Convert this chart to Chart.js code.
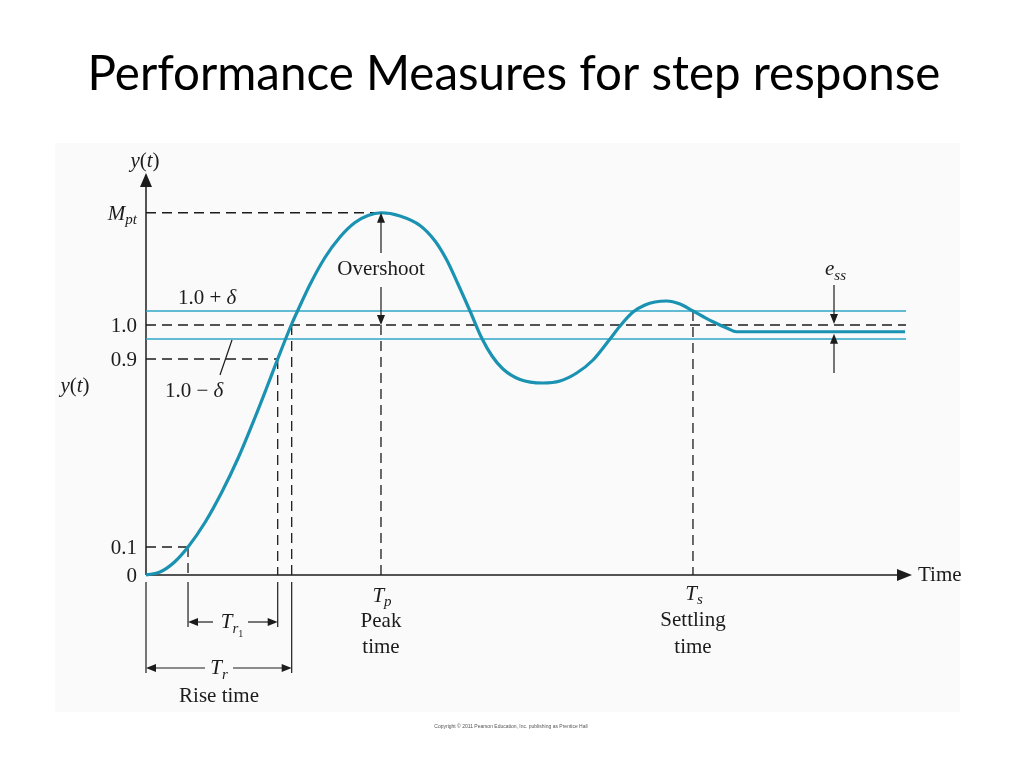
<!DOCTYPE html>
<html>
<head>
<meta charset="utf-8">
<title>Performance Measures for step response</title>
<script src="https://cdn.jsdelivr.net/npm/chart.js@4.4.1/dist/chart.umd.min.js"></script>
<style>
  html, body { margin: 0; padding: 0; background: #fff; }
  canvas { display: block; }
</style>
</head>
<body>
<canvas id="stepChart" width="1024" height="768"></canvas>
<script>
// Step response y(t) (time in arbitrary units, 1.0 = final reference)
const curveT = [0, 0.184, 0.368, 0.553, 0.776, 1.0, 1.211, 1.434, 1.579, 1.733, 1.917, 2.0,
                2.158, 2.355, 2.553, 2.75, 2.921, 3.092, 3.342, 3.605, 3.803, 3.957, 4.105,
                4.263, 4.417, 4.553, 4.697, 4.921, 5.224, 5.447, 5.667, 5.882, 6.105, 6.237,
                6.408, 6.566, 6.697, 6.851, 7.026, 7.197, 7.329, 7.46, 7.64, 7.772, 7.947, 9.987];
const curveY = [0, 0.012, 0.050, 0.112, 0.210, 0.333, 0.467, 0.630, 0.742, 0.864, 1.004, 1.06,
                1.162, 1.27, 1.352, 1.41, 1.438, 1.449, 1.436, 1.398, 1.336, 1.26, 1.164,
                1.056, 0.948, 0.876, 0.824, 0.782, 0.768, 0.776, 0.808, 0.86, 0.944, 0.996,
                1.052, 1.08, 1.092, 1.096, 1.084, 1.056, 1.034, 1.013, 0.988, 0.973, 0.973, 0.973];

// y-axis marks (positions as drawn in the figure) and their labels
const yTickValues = [0, 0.112, 0.864, 1.0, 1.449];
const yTickLabels = ['0', '0.1', '0.9', '1.0', 'Mpt'];

// tolerance band 1.0 +/- delta and the steady-state value
const bandValues = [1.056, 0.944];
const bandLabels = ['1.0 + \u03b4', '1.0 \u2212 \u03b4'];
const steadyValue = 0.973;

// time marks: 10% crossing, 90% crossing, rise time, peak time, settling time
const markNames = ['t10', 't90', 'Tr', 'Tp', 'Ts'];
const markTimes = [0.553, 1.733, 1.917, 3.092, 7.197];
const timeEnd = 10;

const mark = name => markTimes[markNames.indexOf(name)];
const tickVal = label => yTickValues[yTickLabels.indexOf(label)];

const INK = '#1c1c1c';
const TEAL = '#1a92b1';
const BAND = '#2ea6c4';
const SERIF = '"Liberation Serif", "DejaVu Serif", serif';

function seg(x1, y1, x2, y2) {
    return [{ x: x1, y: y1 }, { x: x2, y: y2 }];
}

function dashed(data) {
    return {
        data: data, borderColor: INK, borderWidth: 1.3, borderDash: [10, 6],
        pointRadius: 0, fill: false, tension: 0, order: 3
    };
}

// dashed guide lines
const guides = [
    seg(0, tickVal('Mpt'), mark('Tp'), tickVal('Mpt')),
    seg(0, 1.0, timeEnd, 1.0),
    seg(0, tickVal('0.9'), mark('t90'), tickVal('0.9')),
    seg(0, tickVal('0.1'), mark('t10'), tickVal('0.1')),
    seg(mark('t10'), tickVal('0.1'), mark('t10'), 0),
    seg(mark('t90'), tickVal('0.9'), mark('t90'), 0),
    seg(mark('Tr'), 1.0, mark('Tr'), 0),
    seg(mark('Tp'), 1.0, mark('Tp'), 0),
    seg(mark('Ts'), bandValues[0], mark('Ts'), 0)
];

const datasets = [{
    label: 'y(t)',
    data: curveT.map((t, i) => ({ x: t, y: curveY[i] })),
    borderColor: TEAL,
    borderWidth: 3.2,
    pointRadius: 0,
    cubicInterpolationMode: 'monotone',
    fill: false,
    order: 1
}];
bandValues.forEach(v => {
    datasets.push({
        data: seg(0, v, timeEnd + 0.05, v), borderColor: BAND, borderWidth: 1.6,
        pointRadius: 0, fill: false, order: 2
    });
});
guides.forEach(g => datasets.push(dashed(g)));

// --- drawing helpers ---
function arrowHead(ctx, x, y, dir, len, half) {
    ctx.save();
    ctx.translate(x, y);
    ctx.rotate(dir);
    ctx.beginPath();
    ctx.moveTo(0, 0);
    ctx.lineTo(-len, -half);
    ctx.lineTo(-len, half);
    ctx.closePath();
    ctx.fillStyle = INK;
    ctx.fill();
    ctx.restore();
}

function line(ctx, x1, y1, x2, y2, w) {
    ctx.beginPath();
    ctx.moveTo(x1, y1);
    ctx.lineTo(x2, y2);
    ctx.lineWidth = w || 1.3;
    ctx.strokeStyle = INK;
    ctx.stroke();
}

// parts: [text, size, italic, dy]
function richText(ctx, parts, x, y, align) {
    let total = 0;
    parts.forEach(p => {
        ctx.font = (p[2] ? 'italic ' : '') + p[1] + 'px ' + SERIF;
        total += ctx.measureText(p[0]).width;
    });
    let cx = align === 'center' ? x - total / 2 : align === 'right' ? x - total : x;
    ctx.textAlign = 'left';
    ctx.textBaseline = 'alphabetic';
    ctx.fillStyle = INK;
    parts.forEach(p => {
        ctx.font = (p[2] ? 'italic ' : '') + p[1] + 'px ' + SERIF;
        ctx.fillText(p[0], cx, y + (p[3] || 0));
        cx += ctx.measureText(p[0]).width;
    });
}

const figurePlugin = {
    id: 'figure',
    beforeDraw(chart) {
        const ctx = chart.ctx;
        ctx.save();
        ctx.fillStyle = '#fafafa';
        ctx.fillRect(55, 143, 905, 569);

        // slide title
        let size = 40;
        ctx.font = size + 'px Lato, "Open Sans", sans-serif';
        const title = 'Performance Measures for step response';
        size = size * 852 / ctx.measureText(title).width;
        ctx.font = size.toFixed(1) + 'px Lato, "Open Sans", sans-serif';
        ctx.fillStyle = '#000';
        ctx.textAlign = 'center';
        ctx.textBaseline = 'alphabetic';
        ctx.fillText(title, 514, 90);

        // copyright line
        ctx.font = '5px "Liberation Sans", Arial, sans-serif';
        ctx.fillStyle = '#555';
        ctx.fillText('Copyright \u00a9 2011 Pearson Education, Inc. publishing as Prentice Hall', 511, 728);
        ctx.restore();
    },
    beforeDatasetsDraw(chart) {
        const ctx = chart.ctx;
        const X = v => chart.scales.x.getPixelForValue(v);
        const Y = v => chart.scales.y.getPixelForValue(v);
        ctx.save();
        // axes with arrows
        line(ctx, X(0), Y(0), X(0), 186, 1.5);
        arrowHead(ctx, X(0), 173, -Math.PI / 2, 14, 6);
        line(ctx, X(0), Y(0), 898, Y(0), 1.5);
        arrowHead(ctx, 912, Y(0), 0, 15, 6);
        ctx.restore();
    },
    afterDatasetsDraw(chart) {
        const ctx = chart.ctx;
        const X = v => chart.scales.x.getPixelForValue(v);
        const Y = v => chart.scales.y.getPixelForValue(v);
        const F = 21;
        ctx.save();

        // axis titles
        richText(ctx, [['y', F, true], ['(', F, false], ['t', F, true], [')', F, false]], X(0) - 1, 167, 'center');
        richText(ctx, [['y', F, true], ['(', F, false], ['t', F, true], [')', F, false]], 75, 392, 'center');
        richText(ctx, [['Time', F, false]], 918, Y(0) + 6, 'left');

        // y tick labels
        yTickLabels.forEach((lab, i) => {
            const py = Y(yTickValues[i]) + 7;
            if (lab === 'Mpt') {
                richText(ctx, [['M', F, true], ['pt', 15, true, 4]], 137, py, 'right');
            } else {
                richText(ctx, [[lab, F, false]], 137, py, 'right');
            }
        });

        // band labels
        richText(ctx, [[bandLabels[0].slice(0, -1), F, false], ['\u03b4', F, true]], 178, Y(bandValues[0]) - 7, 'left');
        richText(ctx, [[bandLabels[1].slice(0, -1), F, false], ['\u03b4', F, true]], 165, 397, 'left');
        line(ctx, 232, Y(bandValues[1]) + 1, 220, 375, 1.2);

        // overshoot
        const xp = X(mark('Tp'));
        line(ctx, xp, 253, xp, Y(tickVal('Mpt')) + 8, 1.2);
        arrowHead(ctx, xp, Y(tickVal('Mpt')), -Math.PI / 2, 10, 4);
        line(ctx, xp, 287, xp, Y(1.0) - 8, 1.2);
        arrowHead(ctx, xp, Y(1.0), Math.PI / 2, 10, 4);
        richText(ctx, [['Overshoot', F, false]], xp, 275, 'center');

        // steady-state error
        line(ctx, 834, 285, 834, Y(1.0) - 8, 1.2);
        arrowHead(ctx, 834, Y(1.0) - 1, Math.PI / 2, 10, 4);
        line(ctx, 834, 373, 834, Y(steadyValue) + 9, 1.2);
        arrowHead(ctx, 834, Y(steadyValue) + 2, -Math.PI / 2, 10, 4);
        richText(ctx, [['e', F, true], ['ss', 15, true, 5]], 825, 275, 'left');

        // rise time dimension lines
        const x0 = X(0), x10 = X(mark('t10')), x90 = X(mark('t90')), xr = X(mark('Tr'));
        line(ctx, x0, 582, x0, 673, 1.2);
        line(ctx, x10, 582, x10, 627, 1.2);
        line(ctx, x90, 582, x90, 627, 1.2);
        line(ctx, xr, 582, xr, 673, 1.2);

        const yr1 = 622;
        line(ctx, x10 + 6, yr1, 213, yr1, 1.2);
        arrowHead(ctx, x10, yr1, Math.PI, 10, 4);
        line(ctx, 248, yr1, x90 - 6, yr1, 1.2);
        arrowHead(ctx, x90, yr1, 0, 10, 4);
        richText(ctx, [['T', F, true], ['r', 15, true, 5], ['1', 10, false, 9]], 232, 628, 'center');

        const yr = 668;
        line(ctx, x0 + 6, yr, 205, yr, 1.2);
        arrowHead(ctx, x0, yr, Math.PI, 10, 4);
        line(ctx, 233, yr, xr - 6, yr, 1.2);
        arrowHead(ctx, xr, yr, 0, 10, 4);
        richText(ctx, [['T', F, true], ['r', 15, true, 5]], 219, 674, 'center');
        richText(ctx, [['Rise time', F, false]], 219, 702, 'center');

        // peak time and settling time labels
        richText(ctx, [['T', F, true], ['p', 15, true, 4]], xp + 1, 602, 'center');
        richText(ctx, [['Peak', F, false]], xp, 627, 'center');
        richText(ctx, [['time', F, false]], xp, 653, 'center');

        const xs = X(mark('Ts'));
        richText(ctx, [['T', F, true], ['s', 15, true, 4]], xs + 1, 600, 'center');
        richText(ctx, [['Settling', F, false]], xs, 626, 'center');
        richText(ctx, [['time', F, false]], xs, 653, 'center');

        ctx.restore();
    }
};

new Chart(document.getElementById('stepChart'), {
    type: 'line',
    data: { datasets: datasets },
    options: {
        responsive: false,
        animation: false,
        layout: { padding: { left: 146, right: 118, top: 150, bottom: 43 } },
        plugins: { legend: { display: false }, tooltip: { enabled: false } },
        scales: {
            x: { type: 'linear', min: 0, max: timeEnd, display: false },
            y: { type: 'linear', min: -0.6, max: 1.7, display: false }
        }
    },
    plugins: [figurePlugin]
});
</script>
</body>
</html>
